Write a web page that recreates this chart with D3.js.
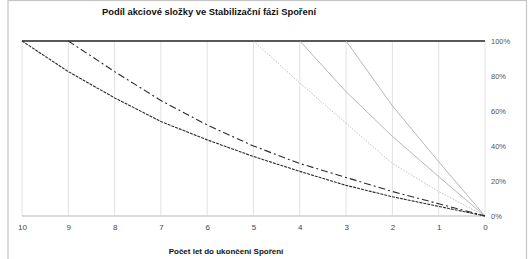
<!DOCTYPE html>
<html>
<head>
<meta charset="utf-8">
<script src="https://cdn.jsdelivr.net/npm/d3@7"></script>
<style>
  body { margin: 0; background: #fff; }
  svg { display: block; font-family: "Liberation Sans", Arial, sans-serif; }
</style>
</head>
<body>
<svg id="chart" width="528" height="259"></svg>
<script>
// years left to end of saving (x axis runs 10 -> 0)
const years = [10, 9, 8, 7, 6, 5, 4, 3, 2, 1, 0]
const yTicks = [0, 0.2, 0.4, 0.6, 0.8, 1]

// share of equity component, one series per start year
const start10 = [1, 0.825, 0.675, 0.54, 0.435, 0.34, 0.255, 0.175, 0.11, 0.055, 0]
const start9 = [1, 0.825, 0.66, 0.52, 0.40, 0.30, 0.22, 0.14, 0.07, 0]
const start5 = [1, 0.76, 0.53, 0.30, 0.14, 0]
const start4 = [1, 0.71, 0.455, 0.225, 0]
const start3 = [1, 0.63, 0.31, 0]

const series = [
  {values: start5,  stroke: "#b0b0b0", width: 0.8, dash: "1.5,1.5"},
  {values: start4,  stroke: "#a4a4a4", width: 0.8, dash: null},
  {values: start3,  stroke: "#a4a4a4", width: 0.8, dash: null},
  {values: start9,  stroke: "#2a2a2a", width: 1.1, dash: "7,3,2,3"},
  {values: start10, stroke: "#2a2a2a", width: 1.1, dash: "3,1"}
]

const svg = d3.select("#chart")

const x = d3.scaleLinear().domain([10, 0]).range([22, 485])
const y = d3.scaleLinear().domain([0, 1]).range([216, 41])

// outer frame
svg.append("rect")
  .attr("x", 8).attr("y", 0.5)
  .attr("width", 518.5).attr("height", 270)
  .attr("fill", "none")
  .attr("stroke", "#c4c4c4")
  .attr("stroke-width", 1.2)

svg.append("text")
  .attr("x", 209).attr("y", 15)
  .attr("text-anchor", "middle")
  .attr("font-size", 9.4).attr("font-weight", "bold")
  .attr("fill", "#111")
  .text("Podíl akciové složky ve Stabilizační fázi Spoření")

// vertical gridlines
svg.append("g")
  .selectAll("line")
  .data(years)
  .enter().append("line")
    .attr("x1", d => x(d)).attr("x2", d => x(d))
    .attr("y1", y(1)).attr("y2", y(0))
    .attr("stroke", "#e2e2e2")
    .attr("stroke-width", 1)

// baseline
svg.append("line")
  .attr("x1", x(10)).attr("x2", x(0))
  .attr("y1", y(0)).attr("y2", y(0))
  .attr("stroke", "#cfcfcf")
  .attr("stroke-width", 1.5)

// 100% line
svg.append("line")
  .attr("x1", x(10)).attr("x2", x(0))
  .attr("y1", y(1)).attr("y2", y(1))
  .attr("stroke", "#222")
  .attr("stroke-width", 1.4)

// series lines, each ends at 0 years left
const line = d3.line()
  .x((d, i, arr) => x(arr.length - 1 - i))
  .y(d => y(d))

series.forEach(s => {
  svg.append("path")
    .datum(s.values)
    .attr("d", line)
    .attr("fill", "none")
    .attr("stroke", s.stroke)
    .attr("stroke-width", s.width)
    .attr("stroke-dasharray", s.dash)
})

// x axis labels
const xAxis = svg.append("g")
  .attr("transform", "translate(0," + 221 + ")")
  .call(d3.axisBottom(x).tickValues(years).tickSize(0).tickFormat(d3.format("d")))
xAxis.select(".domain").remove()
xAxis.selectAll("text")
  .attr("font-size", 8)
  .attr("fill", "#444")
  .attr("font-family", "Liberation Sans, Arial, sans-serif")

// y axis labels on the right
const yAxis = svg.append("g")
  .attr("transform", "translate(488,0)")
  .call(d3.axisRight(y).tickValues(yTicks).tickSize(0).tickFormat(d3.format(".0%")))
yAxis.select(".domain").remove()
yAxis.selectAll("text")
  .attr("font-size", 7.5)
  .attr("fill", "#555")
  .attr("font-family", "Liberation Sans, Arial, sans-serif")

svg.append("text")
  .attr("x", 226).attr("y", 254)
  .attr("text-anchor", "middle")
  .attr("font-size", 8).attr("font-weight", "bold")
  .attr("fill", "#111")
  .text("Počet let do ukončení Spoření")
</script>
</body>
</html>
